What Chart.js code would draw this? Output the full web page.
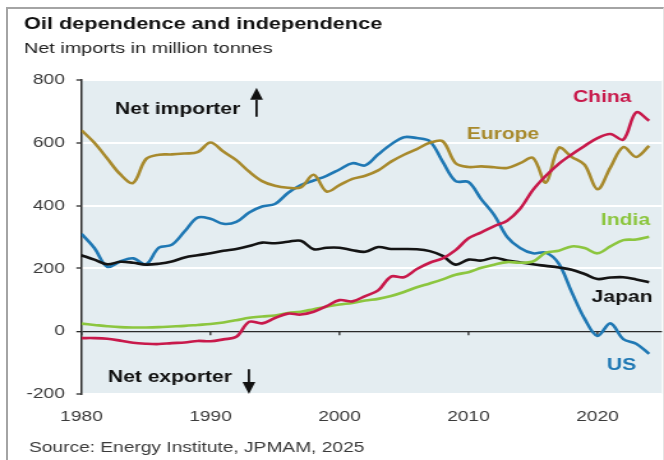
<!DOCTYPE html>
<html>
<head>
<meta charset="utf-8">
<script src="https://cdn.jsdelivr.net/npm/chart.js@4.4.1/dist/chart.umd.min.js"></script>
<style>
  html, body { margin: 0; padding: 0; background: #fff; }
  #wrap { position: relative; width: 664px; height: 460px; overflow: hidden; }
  #frame {
    position: absolute; left: 6px; top: 7px; width: 655px; height: 470px;
    border-top: 2px solid #a4a4a4; border-left: 2px solid #a4a4a4; border-right: 1px solid #e4e4e4;
  }
  #chart { position: absolute; left: 0; top: 0; }
</style>
</head>
<body>
<div id="wrap">
  <div id="frame"></div>
  <!-- drawn at 520 wide, shown at 664 wide -->
  <canvas id="chart" width="520" height="460" style="width:664px;height:460px"></canvas>
</div>
<script>
// Net oil imports, million tonnes (negative = net exporter)
const years = [
  1980, 1981, 1982, 1983, 1984, 1985, 1986, 1987, 1988, 1989,
  1990, 1991, 1992, 1993, 1994, 1995, 1996, 1997, 1998, 1999,
  2000, 2001, 2002, 2003, 2004, 2005, 2006, 2007, 2008, 2009,
  2010, 2011, 2012, 2013, 2014, 2015, 2016, 2017, 2018, 2019,
  2020, 2021, 2022, 2023, 2024
];

const china = [
  -22, -22, -24, -30, -37, -40, -41, -38, -36, -31,
  -32, -26, -18, 30, 25, 42, 56, 53, 62, 80,
  99, 95, 112, 130, 174, 172, 198, 218, 232, 258,
  296, 315, 335, 352, 390, 450, 495, 533, 563, 590,
  615, 628, 610, 697, 670
];

const europe = [
  640, 600, 550, 500, 472, 548, 562, 563, 566, 570,
  601, 572, 545, 508, 478, 463, 457, 458, 498, 445,
  465, 485, 495, 512, 540, 562, 580, 600, 605, 535,
  523, 525, 522, 520, 535, 552, 473, 584, 555, 530,
  452, 521, 586, 555, 590
];

const india = [
  24, 20, 16, 13, 12, 12, 13, 15, 17, 20,
  23, 28, 35, 43, 47, 50, 58, 62, 70, 78,
  85, 90, 98, 103, 112, 125, 140, 152, 165, 180,
  188, 202, 212, 220, 218, 222, 250, 256, 270, 265,
  248, 270, 290, 292, 301
];

const japan = [
  242, 228, 213, 221, 218, 212, 215, 222, 235, 242,
  248, 256, 262, 271, 282, 280, 285, 288, 261, 266,
  266, 258, 253, 268, 262, 262, 261, 255, 240, 212,
  228, 225, 234, 225, 219, 213, 208, 203, 196, 182,
  166, 171, 172, 165, 156
];

const us = [
  310, 265, 205, 222, 232, 213, 266, 275, 318, 362,
  358, 342, 348, 378, 397, 405, 440, 465, 480, 495,
  515, 535, 528, 563, 595, 618, 615, 605, 540, 478,
  475, 420, 370, 300, 265, 248, 250, 215, 125, 40,
  -15, 25, -25, -40, -72
];

const xTicks = [1980, 1990, 2000, 2010, 2020];

const FONT = '"Liberation Sans", Arial, Helvetica, sans-serif';
const INK = '#3a3a3a';

const series = [
  { name: 'China',  values: china,  color: '#c8194b' },
  { name: 'Europe', values: europe, color: '#a88a2d' },
  { name: 'India',  values: india,  color: '#8cc63f' },
  { name: 'Japan',  values: japan,  color: '#141414' },
  { name: 'US',     values: us,     color: '#1f78b4' }
];

// where the inline series names sit (data space: year, value at text middle)
const callouts = [
  { text: 'China',  at: [2018.1, 743],  color: '#c8194b' },
  { text: 'Europe', at: [2009.86, 628], color: '#a88a2d' },
  { text: 'India',  at: [2020.27, 352], color: '#8cc63f' },
  { text: 'Japan',  at: [2019.55, 108], color: '#141414' },
  { text: 'US',     at: [2020.74, -108], color: '#1f78b4' }
];

const plotBackground = {
  id: 'plotBackground',
  beforeDraw(chart) {
    const { ctx, chartArea: a } = chart;
    ctx.save();
    ctx.fillStyle = '#e4edf1';
    ctx.fillRect(a.left, a.top, a.right - a.left, a.bottom - a.top);
    ctx.restore();
  }
};

// small decade ticks hanging off the zero line
const zeroTicks = {
  id: 'zeroTicks',
  beforeDatasetsDraw(chart) {
    const { ctx } = chart;
    const xs = chart.scales.x, ys = chart.scales.y;
    const y0 = ys.getPixelForValue(0);
    ctx.save();
    ctx.strokeStyle = '#2a2a2a';
    ctx.lineWidth = 1.3;
    ctx.beginPath();
    xTicks.forEach(v => {
      const px = xs.getPixelForValue(v);
      ctx.moveTo(px, y0);
      ctx.lineTo(px, y0 + 4);
    });
    ctx.stroke();
    ctx.restore();
  }
};

function drawArrow(ctx, x, yTail, yHead) {
  const dir = yHead > yTail ? 1 : -1;
  const headLen = 12, halfW = 5;
  ctx.beginPath();
  ctx.moveTo(x, yTail);
  ctx.lineTo(x, yHead - dir * headLen);
  ctx.stroke();
  ctx.beginPath();
  ctx.moveTo(x, yHead);
  ctx.lineTo(x - halfW, yHead - dir * headLen);
  ctx.lineTo(x + halfW, yHead - dir * headLen);
  ctx.closePath();
  ctx.fill();
}

const textLayer = {
  id: 'textLayer',
  afterDraw(chart) {
    const { ctx, chartArea } = chart;
    const xs = chart.scales.x, ys = chart.scales.y;
    ctx.save();

    // heading
    ctx.textAlign = 'left';
    ctx.textBaseline = 'alphabetic';
    ctx.fillStyle = '#111';
    ctx.font = `bold 17px ${FONT}`;
    ctx.fillText('Oil dependence and independence', 18.8, 29);
    ctx.fillStyle = '#222';
    ctx.font = `15.5px ${FONT}`;
    ctx.fillText('Net imports in million tonnes', 18.8, 53);

    // footer
    ctx.fillStyle = INK;
    ctx.font = `15px ${FONT}`;
    ctx.fillText('Source: Energy Institute, JPMAM, 2025', 22.7, 451.5);

    // decade labels under the plot
    ctx.textAlign = 'center';
    ctx.textBaseline = 'middle';
    xTicks.forEach(v => {
      ctx.fillText(String(v), xs.getPixelForValue(v), chartArea.bottom + 23);
    });

    // importer / exporter hints
    ctx.textAlign = 'left';
    ctx.fillStyle = '#111';
    ctx.font = `bold 16.5px ${FONT}`;
    ctx.fillText('Net importer', xs.getPixelForValue(1982.6), ys.getPixelForValue(705));
    ctx.fillText('Net exporter', xs.getPixelForValue(1982.05), ys.getPixelForValue(-146));
    ctx.strokeStyle = '#111';
    ctx.lineWidth = 1.8;
    drawArrow(ctx, xs.getPixelForValue(1993.57), ys.getPixelForValue(683), ys.getPixelForValue(775));
    drawArrow(ctx, xs.getPixelForValue(1992.98), ys.getPixelForValue(-121), ys.getPixelForValue(-200));

    // series names
    callouts.forEach(c => {
      ctx.fillStyle = c.color;
      ctx.fillText(c.text, xs.getPixelForValue(c.at[0]), ys.getPixelForValue(c.at[1]));
    });
    ctx.restore();
  }
};

new Chart(document.getElementById('chart'), {
  type: 'line',
  data: {
    datasets: series.map(s => ({
      label: s.name,
      data: years.map((yr, i) => ({ x: yr, y: s.values[i] })),
      borderColor: s.color,
      borderWidth: 2.6,
      pointRadius: 0,
      tension: 0.35,
      fill: false
    }))
  },
  options: {
    responsive: false,
    animation: false,
    layout: { padding: { left: 0, right: 1.6, top: 80, bottom: 36 } },
    plugins: {
      legend: { display: false },
      tooltip: { enabled: false }
    },
    scales: {
      x: {
        type: 'linear',
        min: 1980,
        max: 2025,
        afterBuildTicks: s => { s.ticks = xTicks.map(v => ({ value: v })); },
        afterFit: s => { s.height = 30; },
        grid: { display: false },
        border: { display: false },
        ticks: { display: false }
      },
      y: {
        min: -200,
        max: 800,
        afterFit: s => { s.width = 63.8; },
        ticks: {
          stepSize: 200,
          color: INK,
          font: { family: FONT, size: 15 },
          padding: 9
        },
        grid: {
          color: c => (c.tick && c.tick.value === 0 ? '#2a2a2a' : '#ffffff'),
          lineWidth: c => (c.tick && c.tick.value === 0 ? 1.3 : 2),
          drawTicks: true,
          tickLength: 4,
          tickColor: '#2a2a2a',
          tickWidth: 1.3
        },
        border: { display: true, color: '#2a2a2a', width: 1.5 }
      }
    }
  },
  plugins: [plotBackground, zeroTicks, textLayer]
});
</script>
</body>
</html>
